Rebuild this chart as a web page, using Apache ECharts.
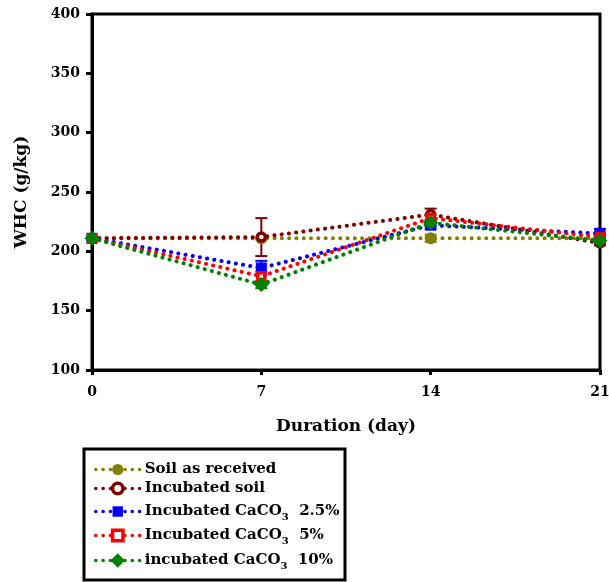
<!DOCTYPE html>
<html>
<head>
<meta charset="utf-8">
<script src="https://cdn.jsdelivr.net/npm/echarts@6/dist/echarts.min.js"></script>
<style>
  html, body { margin: 0; padding: 0; background: #fff; }
  #chart { width: 609px; height: 582px; }
</style>
</head>
<body>
<div id="chart"></div>
<script>
// Water holding capacity over the incubation period
const days = [0, 7, 14, 21];
const yTicks = [100, 150, 200, 250, 300, 350, 400];

const seriesNames = ['Soil as received', 'Incubated soil', 'Incubated CaCO3 2.5%', 'Incubated CaCO3 5%', 'incubated CaCO3 10%'];
const legendLabels = [
  'Soil as received',
  'Incubated soil',
  'Incubated CaCO{sub|3}  2.5%',
  'Incubated CaCO{sub|3}  5%',
  'incubated CaCO{sub|3}  10%'
];

const soilReceived = [211, 211, 211, 211];
const incubatedSoil = [211, 212, 231, 207];
const caco3_25 = [211, 186, 222, 215];
const caco3_5 = [211, 179, 228, 212];
const caco3_10 = [211, 172, 224, 209];

// standard deviations
const soilReceivedErr = [1, 1, 3, 2];
const incubatedSoilErr = [1, 16, 5, 2];
const caco3_25Err = [1, 6, 3, 4];
const caco3_5Err = [1, 4, 3, 3];
const caco3_10Err = [1, 3, 3, 3];

const FONT = '"DejaVu Serif", serif';

const styles = [
  { color: '#808000', symbol: 'circle', size: 12, hollow: false, legendSize: 14 },
  { color: '#800000', symbol: 'circle', size: 8, hollow: true, legendSize: 13 },
  { color: '#0000ff', symbol: 'rect', size: 11, hollow: false, legendSize: 13 },
  { color: '#ff0000', symbol: 'rect', size: 7, hollow: true, legendSize: 13 },
  { color: '#008000', symbol: 'diamond', size: 15, hollow: false, legendSize: 18 }
];
const values = [soilReceived, incubatedSoil, caco3_25, caco3_5, caco3_10];
const errors = [soilReceivedErr, incubatedSoilErr, caco3_25Err, caco3_5Err, caco3_10Err];

const series = [];
values.forEach((vals, i) => {
  const st = styles[i];
  // error bars drawn beneath the markers
  series.push({
    type: 'custom',
    name: seriesNames[i] + ' err',
    z: 2,
    silent: true,
    data: days.map((d, k) => [d, vals[k] - errors[i][k], vals[k] + errors[i][k]]),
    renderItem: function (params, api) {
      const x = api.value(0);
      const lo = api.coord([x, api.value(1)]);
      const hi = api.coord([x, api.value(2)]);
      const w = 6;
      const style = { stroke: st.color, lineWidth: 2 };
      return {
        type: 'group',
        children: [
          { type: 'line', shape: { x1: lo[0], y1: lo[1], x2: hi[0], y2: hi[1] }, style: style },
          { type: 'line', shape: { x1: lo[0] - w, y1: lo[1], x2: lo[0] + w, y2: lo[1] }, style: style },
          { type: 'line', shape: { x1: hi[0] - w, y1: hi[1], x2: hi[0] + w, y2: hi[1] }, style: style }
        ]
      };
    }
  });
  series.push({
    type: 'line',
    name: seriesNames[i],
    z: 3 + i,
    data: days.map((d, k) => [d, vals[k]]),
    symbol: st.symbol,
    symbolSize: st.size,
    showAllSymbol: true,
    lineStyle: { color: st.color, width: 4, type: [0.1, 7.2], cap: 'round' },
    itemStyle: st.hollow
      ? { color: '#ffffff', borderColor: st.color, borderWidth: 3.5 }
      : { color: st.color, borderWidth: 0 },
    emphasis: { disabled: true },
    animation: false
  });
});

const legendTops = [457, 476, 499, 523, 548];
const legends = seriesNames.map((name, i) => ({
  data: [name],
  left: 89,
  top: legendTops[i],
  orient: 'vertical',
  itemWidth: 44,
  itemHeight: styles[i].legendSize,
  itemGap: 0,
  selectedMode: false,
  formatter: () => legendLabels[i],
  lineStyle: { width: 3.5 },
  itemStyle: styles[i].hollow ? { borderWidth: 3.5 } : {},
  textStyle: {
    fontFamily: FONT, fontWeight: 'bold', fontSize: 15, color: '#000', padding: [0, 0, 0, 0],
    rich: {
      sub: { fontFamily: FONT, fontWeight: 'bold', fontSize: 10, verticalAlign: 'bottom', padding: [12, 0, 0, 0], color: '#000' }
    }
  }
}));

const chart = echarts.init(document.getElementById('chart'), null, { renderer: 'canvas' });
chart.setOption({
  animation: false,
  backgroundColor: '#fff',
  grid: {
    left: 92, right: 9, top: 14, bottom: 212,
    containLabel: false, outerBoundsMode: 'none',
    show: true, borderColor: '#000', borderWidth: 3, backgroundColor: 'transparent'
  },
  xAxis: {
    type: 'value',
    min: 0, max: 21, interval: 7,
    name: 'Duration (day)',
    nameLocation: 'middle',
    nameGap: 48,
    nameTextStyle: { fontFamily: FONT, fontWeight: 'bold', fontSize: 17, color: '#000' },
    axisLine: { lineStyle: { color: '#000', width: 3 } },
    axisTick: { length: 5, lineStyle: { color: '#000', width: 3 } },
    axisLabel: { margin: 15, fontFamily: FONT, fontWeight: 'bold', fontSize: 14, color: '#000' },
    splitLine: { show: false }
  },
  yAxis: {
    type: 'value',
    min: yTicks[0], max: yTicks[yTicks.length - 1], interval: 50,
    name: 'WHC (g/kg)',
    nameLocation: 'middle',
    nameGap: 62,
    nameRotate: 90,
    nameTextStyle: { fontFamily: FONT, fontWeight: 'bold', fontSize: 17, color: '#000' },
    axisLine: { lineStyle: { color: '#000', width: 3 } },
    axisTick: { length: 6, lineStyle: { color: '#000', width: 3 } },
    axisLabel: { margin: 12, fontFamily: FONT, fontWeight: 'bold', fontSize: 14, color: '#000' },
    splitLine: { show: false }
  },
  legend: legends,
  graphic: [{
    type: 'rect',
    shape: { x: 84, y: 449, width: 261, height: 131 },
    style: { fill: 'none', stroke: '#000', lineWidth: 3 },
    silent: true
  }],
  series: series
});
</script>
</body>
</html>
